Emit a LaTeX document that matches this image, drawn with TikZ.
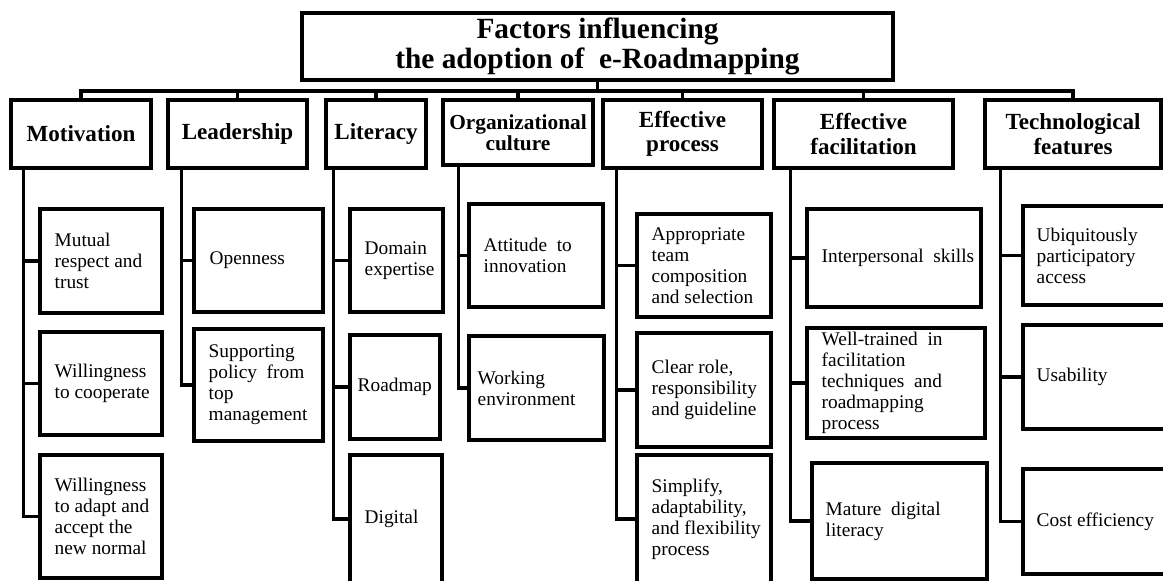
\documentclass[tikz,border=0pt]{standalone}
\usepackage{fontspec}
\setmainfont{Liberation Serif}
\usetikzlibrary{fit,calc}
\newcommand\cbx[7]{%
  \node[bx, fit={(#2,#3) (#4,#5)}] (#1) {};
  \node[ctx] (#1t) at ($(#1.west)+(#6,0)$) {#7};}
\newcommand\catbox[7]{%
  \node[#6, minimum width={(#4-#2)*0.75pt}, minimum height={(#5-#3)*0.75pt}]
    (#1) at ({(#2+#4)/2},{(#3+#5)/2}) {#7};}
\begin{document}
\begin{tikzpicture}[x=0.75pt,y=-0.75pt,
  bx/.style={draw, line width=2.3pt, inner sep=0pt, rectangle},
  cat/.style={bx, align=center, font=\fontsize{17.3}{18.5}\selectfont\bfseries},
  ttl/.style={bx, align=center, font=\fontsize{22}{22}\selectfont\bfseries},
  ctx/.style={anchor=west, align=left, inner sep=0pt, font=\fontsize{14.5}{15.8}\selectfont},
  conn/.style={line width=2.3pt, line join=miter}]
\useasboundingbox (0,0) rectangle (1163,581);
\fill[white] (0,0) rectangle (1163,581);
\clip (0,0) rectangle (1163,581);

% title
\catbox{title}{302}{13}{893}{80}{ttl}{Factors influencing\\the adoption of\ \ e-Roadmapping}

% categories
\catbox{mot}{11}{100}{151}{168}{cat}{Motivation}
\catbox{lea}{168}{100}{307}{168}{cat}{Leadership}
\catbox{lit}{326}{100}{426}{168}{cat}{Literacy}
\catbox{org}{443}{100}{593}{165}{cat,font=\fontsize{16}{15.5}\selectfont\bfseries}{Organizational\\culture}
\catbox{ep}{603}{100}{762}{168}{cat}{Effective\\process}
\catbox{ef}{774}{100}{953}{168}{cat}{Effective\\facilitation}
\catbox{tf}{985}{100}{1161}{168}{cat}{Technological\\features}

% bus
\coordinate (bus) at (598,91);
\draw[conn] (title.south) -- (title.south |- bus);
\draw[conn] (mot.north) -- (mot.north |- bus) -- (tf.north |- bus) -- (tf.north);
\foreach \n in {lea,lit,org,ep,ef} \draw[conn] (\n.north) -- (\n.north |- bus);

% children
\cbx{m1}{40}{209}{162}{313}{16}{Mutual\\respect and\\trust}
\cbx{m2}{40}{332}{162}{435}{16}{Willingness\\to cooperate}
\cbx{m3}{40}{455}{162}{578}{16}{Willingness\\to adapt and\\accept the\\new normal}
\cbx{l1}{194}{209}{323}{312}{17}{Openness}
\cbx{l2}{194}{329}{323}{441}{16}{Supporting\\policy\ \ from\\top\\management}
\cbx{t1}{350}{209}{443}{312}{16}{Domain\\expertise}
\cbx{t2}{350}{335}{440}{439}{9}{Roadmap}
\cbx{t3}{350}{455}{442}{583}{16}{Digital}
\cbx{o1}{469}{204}{603}{307}{16}{Attitude\ \ to\\innovation}
\cbx{o2}{469}{336}{604}{440}{10}{Working\\environment}
\cbx{p1}{637}{214}{771}{317}{16}{Appropriate\\team\\composition\\and selection}
\cbx{p2}{637}{333}{771}{447}{16}{Clear role,\\responsibility\\and guideline}
\cbx{p3}{637}{455}{771}{583}{16}{Simplify,\\adaptability,\\and flexibility\\process}
\cbx{f1}{807}{209}{981}{307}{16}{Interpersonal\ \ skills}
\cbx{f2}{807}{328}{985}{438}{16}{Well-trained\ \ in\\facilitation\\techniques\ \ and\\roadmapping\\process}
\cbx{f3}{812}{463}{987}{579}{15}{Mature\ \ digital\\literacy}
\cbx{g1}{1023}{206}{1170}{305}{15}{Ubiquitously\\participatory\\access}
\cbx{g2}{1023}{325}{1170}{429}{15}{Usability}
\cbx{g3}{1023}{469}{1170}{574}{15}{Cost efficiency}

% trunks
\coordinate (mT) at ($(mot.south west)+(14,0)$);
\coordinate (lT) at ($(lea.south west)+(15,0)$);
\coordinate (tT) at ($(lit.south west)+(9,0)$);
\coordinate (oT) at ($(org.south west)+(17,0)$);
\coordinate (pT) at ($(ep.south west)+(15,0)$);
\coordinate (fT) at ($(ef.south west)+(18,0)$);
\coordinate (gT) at ($(tf.south west)+(17,0)$);
\foreach \t/\a in {mT/m1,mT/m2,mT/m3,lT/l1,lT/l2,tT/t1,tT/t2,tT/t3,oT/o1,oT/o2,pT/p1,pT/p2,pT/p3,fT/f1,fT/f2,fT/f3,gT/g1,gT/g2,gT/g3}
  \draw[conn] (\t) |- (\a.west);
\end{tikzpicture}
\end{document}
